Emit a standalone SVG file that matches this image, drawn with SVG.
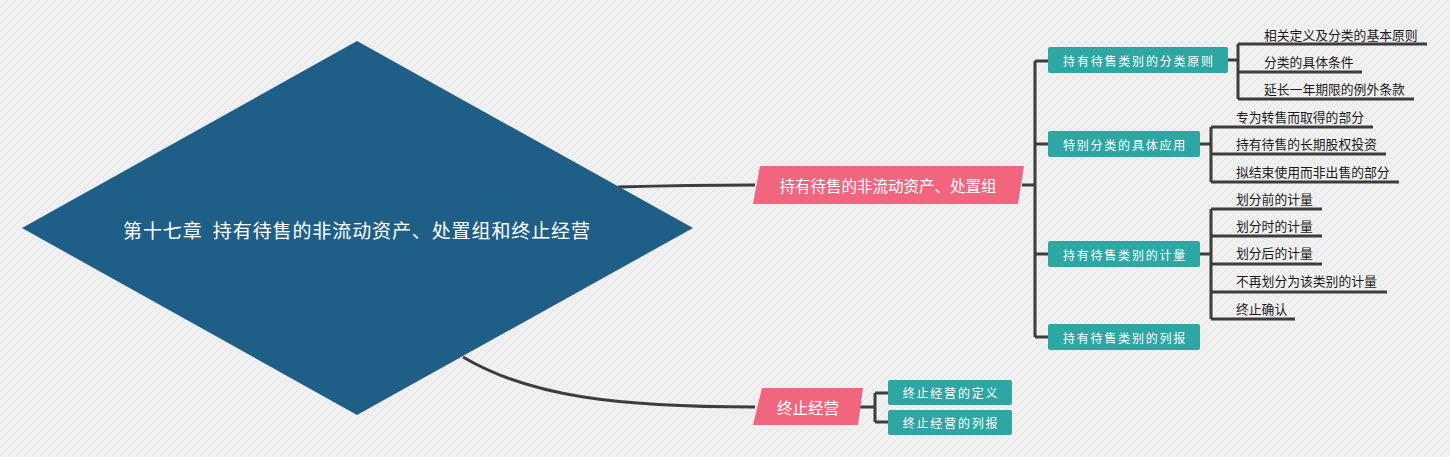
<svg xmlns="http://www.w3.org/2000/svg" width="1450" height="457" viewBox="0 0 1450 457">
<defs>
<pattern id="tex" width="8" height="8" patternUnits="userSpaceOnUse">
<rect width="8" height="8" fill="#efefef"/>
<path d="M0,8 L8,0" stroke="#e4e4e4" stroke-width="0.8"/>
<path d="M0,0 L8,8" stroke="#f8f8f8" stroke-width="0.8"/>
</pattern>
<style>
.txt{font-family:"Noto Sans CJK SC","Noto Sans",sans-serif;}
.conn{fill:none;stroke:#3d3d3d;stroke-width:3;stroke-linejoin:round;}
.teal{fill:#2ea6a3;}
.pink{fill:#f2657f;}
.tl{fill:#ffffff;font-size:12px;letter-spacing:1.8px;text-anchor:middle;dominant-baseline:central;}
.pl{fill:#ffffff;font-size:15.5px;text-anchor:middle;dominant-baseline:central;}
.cl{fill:#1a1a1a;font-size:12.8px;dominant-baseline:central;}
</style>
</defs>
<rect width="1450" height="457" fill="url(#tex)"/>

<g id="connectors">
<path class="conn" d="M618,187 Q690,185 755,185"/>
<path class="conn" d="M463,357 C530,397 620,407 755,407"/>
<path class="conn" d="M1022,185 H1035 M1035,61 V337 M1035,61 H1048 M1035,144 H1048 M1035,254 H1048 M1035,337 H1048"/>
<path class="conn" d="M1228,60 H1238 M1238,44 V99 M1238,44 H1427 M1238,72 H1362 M1238,99 H1414"/>
<path class="conn" d="M1200,144 H1211 M1211,127 V182 M1211,127 H1373 M1211,154 H1386 M1211,182 H1399"/>
<path class="conn" d="M1200,254 H1211 M1211,209 V319 M1211,209 H1322 M1211,236 H1322 M1211,264 H1322 M1211,292 H1387 M1211,319 H1295"/>
<path class="conn" d="M860,407 H875 M875,393 V422 M875,393 H888 M875,422 H888"/>
</g>

<g id="root">
<polygon points="22,228 357,41 693,228 357,415" fill="#1f5f87"/>
<text class="txt" x="123" y="229" fill="#ffffff" font-size="19" dominant-baseline="central" textLength="467" lengthAdjust="spacing">第十七章&#160;&#160;持有待售的非流动资产、处置组和终止经营</text>
</g>

<g id="n-hfs">
<polygon class="pink" points="760,166 1024,166 1018,204 753,204"/>
<text class="txt pl" x="888" y="185">持有待售的非流动资产、处置组</text>
</g>
<g id="n-disc">
<polygon class="pink" points="762,388 863,388 858,425 753,425"/>
<text class="txt pl" x="808" y="406.5">终止经营</text>
</g>

<g id="n-t1">
<rect class="teal" x="1048" y="47" width="180" height="26" rx="2"/>
<text class="txt tl" x="1139" y="60">持有待售类别的分类原则</text>
</g>
<g id="n-t2">
<rect class="teal" x="1048" y="131" width="152" height="26" rx="2"/>
<text class="txt tl" x="1125" y="144">特别分类的具体应用</text>
</g>
<g id="n-t3">
<rect class="teal" x="1048" y="241" width="152" height="26" rx="2"/>
<text class="txt tl" x="1125" y="254">持有待售类别的计量</text>
</g>
<g id="n-t4">
<rect class="teal" x="1048" y="324" width="152" height="26" rx="2"/>
<text class="txt tl" x="1125" y="337">持有待售类别的列报</text>
</g>
<g id="n-d1">
<rect class="teal" x="888" y="380" width="124" height="25" rx="2"/>
<text class="txt tl" x="951" y="392.5">终止经营的定义</text>
</g>
<g id="n-d2">
<rect class="teal" x="888" y="410" width="124" height="25" rx="2"/>
<text class="txt tl" x="951" y="422.5">终止经营的列报</text>
</g>

<g id="n-c1"><text class="txt cl" x="1264" y="34">相关定义及分类的基本原则</text></g>
<g id="n-c2"><text class="txt cl" x="1264" y="61">分类的具体条件</text></g>
<g id="n-c3"><text class="txt cl" x="1264" y="88">延长一年期限的例外条款</text></g>
<g id="n-c4"><text class="txt cl" x="1236" y="116">专为转售而取得的部分</text></g>
<g id="n-c5"><text class="txt cl" x="1236" y="143">持有待售的长期股权投资</text></g>
<g id="n-c6"><text class="txt cl" x="1236" y="171">拟结束使用而非出售的部分</text></g>
<g id="n-c7"><text class="txt cl" x="1236" y="198">划分前的计量</text></g>
<g id="n-c8"><text class="txt cl" x="1236" y="225">划分时的计量</text></g>
<g id="n-c9"><text class="txt cl" x="1236" y="252">划分后的计量</text></g>
<g id="n-c10"><text class="txt cl" x="1236" y="280">不再划分为该类别的计量</text></g>
<g id="n-c11"><text class="txt cl" x="1236" y="308">终止确认</text></g>
</svg>
